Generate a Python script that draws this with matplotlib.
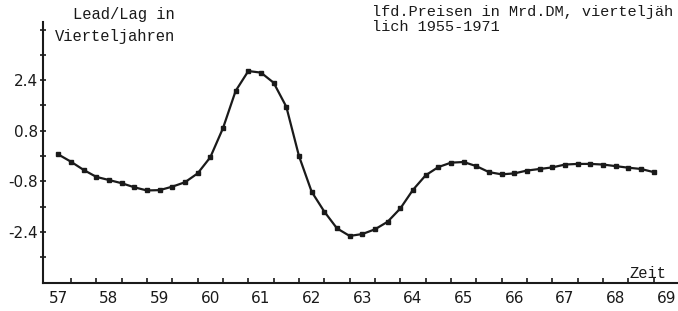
import numpy as np
import matplotlib
matplotlib.use("Agg")
import matplotlib.pyplot as plt

# --- Data: lead/lag in quarters, one value per quarter ---
start_year = 57.0
lead_lag = [0.05, -0.18, -0.44, -0.66, -0.76, -0.86, -0.99, -1.09, -1.08, -0.97,
            -0.83, -0.55, -0.04, 0.88, 2.06, 2.69, 2.64, 2.32, 1.56, 0.0,
            -1.13, -1.76, -2.29, -2.53, -2.47, -2.32, -2.08, -1.66, -1.07, -0.61,
            -0.35, -0.21, -0.19, -0.32, -0.51, -0.58, -0.55, -0.46, -0.41, -0.36,
            -0.27, -0.25, -0.25, -0.27, -0.32, -0.37, -0.41, -0.51]
year_labels = ["57", "58", "59", "60", "61", "62", "63", "64", "65", "66", "67", "68", "69"]
y_label_vals = [2.4, 0.8, -0.8, -2.4]

x = start_year + 0.25 * np.arange(len(lead_lag))

mono = "Liberation Mono"
ink = "#1a1a1a"

fig = plt.figure(figsize=(6.78, 3.11), dpi=100)
ax = fig.add_axes([0.0634, 0.09, 0.9366, 0.839])

ax.plot(x, lead_lag, color=ink, lw=1.6, marker="s", ms=3.0, mfc=ink, mec=ink)

ax.set_xlim(56.698, 69.23)
ax.set_ylim(-4.02, 4.24)

for s in ["top", "right"]:
    ax.spines[s].set_visible(False)
for s in ["left", "bottom"]:
    ax.spines[s].set_color(ink)
    ax.spines[s].set_linewidth(1.5)

# year labels without tick marks, half-year ticks on the points
ax.set_xticks([start_year + i for i in range(len(year_labels))])
ax.set_xticklabels(year_labels, fontsize=11, color=ink, family="DejaVu Sans")
ax.tick_params(axis="x", which="major", length=0, pad=6)
ax.set_xticks(x[1::2], minor=True)
ax.tick_params(axis="x", which="minor", direction="in", length=3.5, width=1.2, color=ink)

ax.set_yticks(y_label_vals)
ax.set_yticklabels([f"{v:.1f}" for v in y_label_vals], fontsize=11, color=ink,
                   family="DejaVu Sans")
ax.tick_params(axis="y", which="major", direction="inout", length=5, width=1.2,
               color=ink, pad=1)
ax.set_yticks([-3.2, -1.6, 0.0, 1.6, 3.2, 4.0], minor=True)
ax.tick_params(axis="y", which="minor", direction="inout", length=5, width=1.2, color=ink)

# --- typewriter annotations ---
fig.text(124 / 678, 1 - 15 / 311, "Lead/Lag in", family=mono, fontsize=11.2,
         color=ink, ha="center", va="center")
fig.text(55 / 678, 1 - 36 / 311, "Vierteljahren", family=mono, fontsize=11.2,
         color=ink, ha="left", va="center")
fig.text(372 / 678, 1 - 12 / 311, "lfd.Preisen in Mrd.DM, vierteljäh", family=mono,
         fontsize=11.0, color=ink, ha="left", va="center")
fig.text(372 / 678, 1 - 27 / 311, "lich 1955-1971", family=mono, fontsize=11.0,
         color=ink, ha="left", va="center")
fig.text(630 / 678, 1 - 273 / 311, "Zeit", family=mono, fontsize=11.2,
         color=ink, ha="left", va="center")

fig.savefig("out.png", dpi=100)
